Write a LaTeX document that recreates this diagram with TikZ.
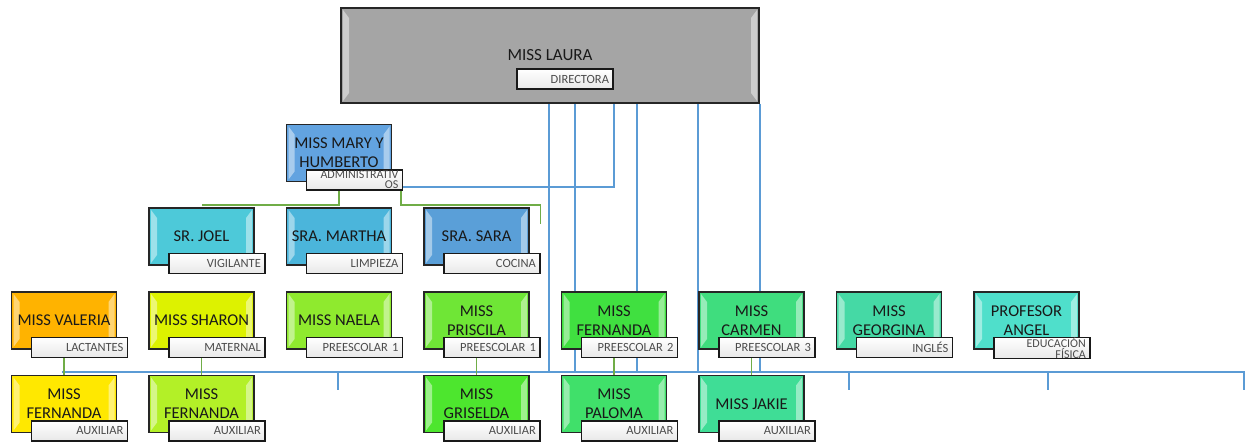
\documentclass[tikz,border=0pt]{standalone}
\usepackage{fontspec}
\setmainfont{Carlito}
\usetikzlibrary{positioning,backgrounds}

\definecolor{linkblue}{HTML}{5B9BD5}
\definecolor{linkgreen}{HTML}{70AD47}
\definecolor{cgray}{HTML}{A5A5A5}
\definecolor{cmary}{HTML}{62A3E0}
\definecolor{cjoel}{HTML}{4DC9D9}
\definecolor{cmartha}{HTML}{4BB5DB}
\definecolor{csara}{HTML}{5A9FD8}
\definecolor{cvaleria}{HTML}{FFB300}
\definecolor{csharon}{HTML}{DDF200}
\definecolor{cnaela}{HTML}{8FEA2E}
\definecolor{cpriscila}{HTML}{6FE636}
\definecolor{cfernanda}{HTML}{40E040}
\definecolor{ccarmen}{HTML}{3FDD7E}
\definecolor{cgeorgina}{HTML}{45D9A5}
\definecolor{cangel}{HTML}{4FDFCB}
\definecolor{cfernA}{HTML}{FFE800}
\definecolor{cfernB}{HTML}{B3F027}
\definecolor{cgriselda}{HTML}{4DE62E}
\definecolor{cpaloma}{HTML}{40E06A}
\definecolor{cjakie}{HTML}{3FDD96}

\tikzset{
  bevel/.style={path picture={
    \fill[white,opacity=0.45] ([shift={(2pt,-2pt)}]path picture bounding box.north west)
      -- ++(6pt,-8pt) -- ([shift={(8pt,10pt)}]path picture bounding box.south west)
      -- ++(-6pt,-8pt) -- cycle;
    \fill[white,opacity=0.45] ([shift={(-2pt,-2pt)}]path picture bounding box.north east)
      -- ++(-6pt,-8pt) -- ([shift={(-8pt,10pt)}]path picture bounding box.south east)
      -- ++(6pt,-8pt) -- cycle;}},
  person/.style={draw=black!85, line width=1.5pt, fill=#1, bevel,
    minimum width=105pt, minimum height=57pt, inner sep=1pt, align=center,
    font=\fontsize{16.5}{19}\selectfont, text=black!90},
  boss/.style={person=cgray, minimum width=418pt, minimum height=95pt,
    font=\fontsize{17}{19}\selectfont},
  role/.style={draw=black!90, line width=1.3pt, top color=white, bottom color=black!9,
    minimum width=96pt, minimum height=20pt, text width=88pt, inner xsep=4pt, inner ysep=0pt,
    align=right, font=\fontsize{12.5}{9}\selectfont, text=black!70},
  role2/.style={role, font=\fontsize{12}{10}\selectfont},
  bluelink/.style={draw=linkblue, line width=1.8pt},
  greenlink/.style={draw=linkgreen, line width=1.8pt},
}

\begin{document}
\begin{tikzpicture}[x=1pt,y=1pt]
\useasboundingbox (0,0) rectangle (1245,-443);

% direccion
\node[boss] (laura) at (550,-55.5) {MISS LAURA};
\node[role] (directora) at (565,-79) {DIRECTORA};

% administracion
\node[person=cmary] (mary) at (339,-153) {MISS MARY Y\\HUMBERTO};
\node[role2, below right=-13pt and 20pt of mary.south west] (admin) {ADMINISTRATIV\\OS};

\node[person=cjoel] (joel) at (201.5,-236.5) {SR. JOEL};
\node[role, below right=-13pt and 20pt of joel.south west] (vigil) {VIGILANTE};
\node[person=cmartha] (martha) at (339,-236.5) {SRA. MARTHA};
\node[role, below right=-13pt and 20pt of martha.south west] (limp) {LIMPIEZA};
\node[person=csara] (sara) at (476.5,-236.5) {SRA. SARA};
\node[role, below right=-13pt and 20pt of sara.south west] (cocina) {COCINA};

% maestras
\node[person=cvaleria] (valeria) at (64,-320.5) {MISS VALERIA};
\node[role, below right=-13pt and 20pt of valeria.south west] (lact) {LACTANTES};
\node[person=csharon] (sharon) at (201.5,-320.5) {MISS SHARON};
\node[role, below right=-13pt and 20pt of sharon.south west] (mat) {MATERNAL};
\node[person=cnaela] (naela) at (339,-320.5) {MISS NAELA};
\node[role, below right=-13pt and 20pt of naela.south west] (preA) {PREESCOLAR 1};
\node[person=cpriscila] (priscila) at (476.5,-320.5) {MISS\\PRISCILA};
\node[role, below right=-13pt and 20pt of priscila.south west] (preB) {PREESCOLAR 1};
\node[person=cfernanda] (fernanda) at (614,-320.5) {MISS\\FERNANDA};
\node[role, below right=-13pt and 20pt of fernanda.south west] (preC) {PREESCOLAR 2};
\node[person=ccarmen] (carmen) at (751.5,-320.5) {MISS\\CARMEN};
\node[role, below right=-13pt and 20pt of carmen.south west] (preD) {PREESCOLAR 3};
\node[person=cgeorgina] (georgina) at (889,-320.5) {MISS\\GEORGINA};
\node[role, below right=-13pt and 20pt of georgina.south west] (ingles) {INGLÉS};
\node[person=cangel] (angel) at (1026.5,-320.5) {PROFESOR\\ANGEL};
\node[role2, below right=-13pt and 20pt of angel.south west] (edfis) {EDUCACIÓN\\FÍSICA};

% auxiliares
\node[person=cfernA] (fernA) at (64,-404) {MISS\\FERNANDA};
\node[role, below right=-13pt and 20pt of fernA.south west] (auxA) {AUXILIAR};
\node[person=cfernB] (fernB) at (201.5,-404) {MISS\\FERNANDA};
\node[role, below right=-13pt and 20pt of fernB.south west] (auxB) {AUXILIAR};
\node[person=cgriselda] (griselda) at (476.5,-404) {MISS\\GRISELDA};
\node[role, below right=-13pt and 20pt of griselda.south west] (auxC) {AUXILIAR};
\node[person=cpaloma] (paloma) at (614,-404) {MISS\\PALOMA};
\node[role, below right=-13pt and 20pt of paloma.south west] (auxD) {AUXILIAR};
\node[person=cjakie] (jakie) at (751.5,-404) {MISS JAKIE};
\node[role, below right=-13pt and 20pt of jakie.south west] (auxE) {AUXILIAR};

\coordinate (busL) at (62,-372);
\coordinate (busR) at (1245,-372);
\coordinate (gtop) at ([yshift=2pt]joel.north);

\begin{pgfonlayer}{background}
\path[bluelink] ([xshift=64pt]laura.south) |- ([yshift=-7pt]admin.east);
\path[bluelink, line width=2.6pt] ([xshift=-1pt]laura.south) -- ([xshift=-1pt]laura.south |- busL);
\path[bluelink] ([xshift=25pt]laura.south) -- ([xshift=25pt]laura.south |- busL);
\path[bluelink] ([xshift=87pt]laura.south) -- ([xshift=87pt]laura.south |- busL);
\path[bluelink] ([xshift=148pt]laura.south) -- ([xshift=148pt]laura.south |- busL);
\path[bluelink] (laura.south east) -- (laura.south east |- busL);
\path[bluelink, line width=2.4pt] (busL) -- (busR);
\foreach \x in {338,849,1048,1244}
  \path[bluelink] (busL -| \x,0) -- ++(0,-18);

\path[greenlink] (mary.south) |- (gtop);
\path[greenlink] ([xshift=-2pt]admin.south east) |- (gtop -| cocina.east) -- ++(0,-19);
\path[greenlink] (valeria.south) -- (fernA.north);
\path[greenlink] (sharon.south) -- (fernB.north);
\path[greenlink] (priscila.south) -- (griselda.north);
\path[greenlink] (fernanda.south) -- (paloma.north);
\path[greenlink] (carmen.south) -- (jakie.north);
\end{pgfonlayer}

\end{tikzpicture}
\end{document}
